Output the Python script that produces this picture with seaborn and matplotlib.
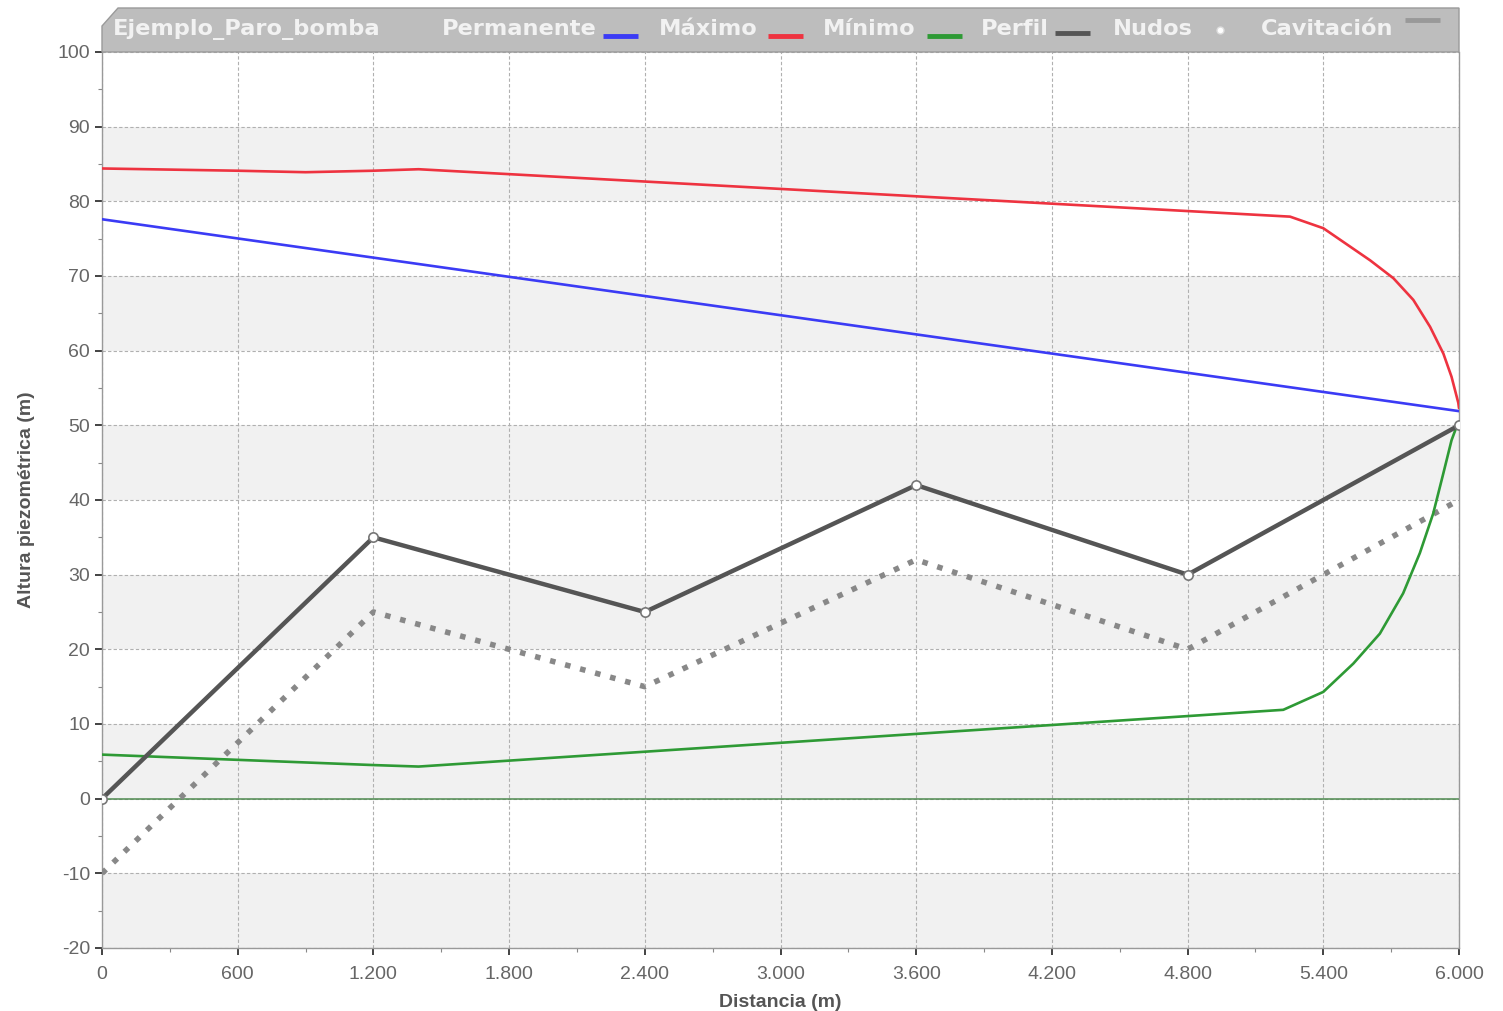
import matplotlib.pyplot as plt
import matplotlib.ticker as mticker
from matplotlib.lines import Line2D
from matplotlib.patches import Polygon
import seaborn as sns


TITLE = "Ejemplo_Paro_bomba"

# Permanente (blue)
perm_x = [0, 6000]
perm_y = [77.6, 51.9]

# Maximo (red)
max_x = [0, 600, 900, 1200, 1400, 5253, 5400, 5607, 5710, 5798, 5872, 5931, 5967, 5997, 6000]
max_y = [84.4, 84.1, 83.9, 84.1, 84.3, 77.95, 76.4, 72.1, 69.7, 66.8, 63.2, 59.6, 56.5, 53.0, 52.3]

# Minimo (green)
min_x = [0, 600, 1200, 1400, 5223, 5400, 5533, 5650, 5753, 5827, 5886, 5931, 5967, 5989, 6000]
min_y = [5.9, 5.2, 4.5, 4.3, 11.9, 14.3, 18.1, 22.1, 27.5, 32.9, 38.2, 43.6, 48.0, 49.8, 50.0]

# Perfil / Nudos
node_x = [0, 1200, 2400, 3600, 4800, 6000]
node_y = [0, 35, 25, 42, 30, 50]

# Cavitacion
cav_y = [-10, 25, 15, 32, 20, 40]

LEGEND_LABELS = ["Permanente", "Máximo", "Mínimo", "Perfil", "Nudos", "Cavitación"]

BLUE = "#3b3bf5"
RED = "#ee3340"
GREEN = "#2e9a35"
PROFILE = "#555555"
CAV = "#888888"


def fmt_thousands(v, _pos):
    return f"{int(round(v)):,}".replace(",", ".")


def main() -> None:
    sns.set_theme(style="white")
    plt.rcParams["font.family"] = ["Liberation Sans", "DejaVu Sans"]
    plt.rcParams["axes.unicode_minus"] = False

    fig = plt.figure(figsize=(15.03, 10.11), dpi=100)
    W, H = 1503, 1011
    ax = fig.add_axes([102 / W, 1 - 948 / H, (1459 - 102) / W, (948 - 52) / H])

    # alternating background bands
    for lo in [-20, 0, 20, 40, 60, 80]:
        ax.axhspan(lo, lo + 10, color="#f1f1f1", zorder=0, lw=0)

    ax.axhline(0, color="#4f8a50", lw=1.1, zorder=1)

    sns.lineplot(x=perm_x, y=perm_y, ax=ax, color=BLUE, lw=1.9, zorder=4)
    sns.lineplot(x=max_x, y=max_y, ax=ax, color=RED, lw=1.9, zorder=4, sort=False)
    sns.lineplot(x=min_x, y=min_y, ax=ax, color=GREEN, lw=1.9, zorder=4, sort=False)
    sns.lineplot(x=node_x, y=cav_y, ax=ax, color=CAV, lw=4, zorder=3,
                 linestyle=(0, (1, 1.8)), sort=False)
    sns.lineplot(x=node_x, y=node_y, ax=ax, color=PROFILE, lw=3.2, zorder=5, sort=False)
    sns.scatterplot(x=node_x, y=node_y, ax=ax, color="white", edgecolor="#777777",
                    s=45, linewidth=1.2, zorder=6)

    ax.set_xlim(0, 6000)
    ax.set_ylim(-20, 100)
    ax.xaxis.set_major_locator(mticker.MultipleLocator(600))
    ax.xaxis.set_minor_locator(mticker.MultipleLocator(300))
    ax.yaxis.set_major_locator(mticker.MultipleLocator(10))
    ax.yaxis.set_minor_locator(mticker.MultipleLocator(5))
    ax.xaxis.set_major_formatter(mticker.FuncFormatter(fmt_thousands))

    ax.grid(True, which="major", color="#b0b0b0", lw=0.8, linestyle=(0, (3, 2)), zorder=1)
    ax.set_axisbelow(True)

    ax.tick_params(axis="both", which="major", direction="out", length=5, width=1.2,
                   color="#222222", labelsize=14, labelcolor="#666666", bottom=True, left=True)
    ax.tick_params(axis="x", which="major", pad=8)
    ax.tick_params(axis="both", which="minor", direction="out", length=3, width=0.8,
                   color="#888888", bottom=True, left=True)

    for side in ["left", "bottom", "right"]:
        ax.spines[side].set_color("#999999")
        ax.spines[side].set_linewidth(1.0)
    ax.spines["top"].set_visible(False)

    ax.set_xlabel("Distancia (m)", fontsize=14, fontweight="bold", color="#555555", labelpad=8)
    ax.set_ylabel("Altura piezométrica (m)", fontsize=14, fontweight="bold", color="#555555",
                  labelpad=16)

    # header bar with title and legend
    def fx(px):
        return px / W

    def fy(py):
        return 1 - py / H

    header = Polygon(
        [(fx(102), fy(52)), (fx(102), fy(26)), (fx(118), fy(8)), (fx(1459), fy(8)), (fx(1459), fy(52))],
        closed=True, transform=fig.transFigure, facecolor="#bdbdbd", edgecolor="#9a9a9a", lw=1.0,
    )
    fig.patches.append(header)

    txt = dict(fontsize=16.2, color="#f2f2f2", fontweight="bold", va="center", ha="left",
               family=["DejaVu Sans"])
    fig.text(fx(113), fy(29), TITLE, **txt)

    label_px = [442, 659, 823, 981, 1113, 1261]
    swatches = [(603, 638, 36, BLUE), (768, 803, 36, RED), (927, 962, 36, GREEN),
                (1055, 1090, 33, PROFILE), None, (1405, 1440, 20, "#999999")]
    for label, lx, sw in zip(LEGEND_LABELS, label_px, swatches):
        fig.text(fx(lx), fy(29), label, **txt)
        if sw is not None:
            x0, x1, yy, c = sw
            fig.lines.append(Line2D([fx(x0), fx(x1)], [fy(yy), fy(yy)], transform=fig.transFigure,
                                    color=c, lw=3.5, solid_capstyle="butt"))
    fig.lines.append(Line2D([fx(1220)], [fy(30)], transform=fig.transFigure, marker="o",
                            markersize=5, markerfacecolor="white", markeredgecolor="#dddddd",
                            linestyle="none"))

    fig.savefig("out.png", dpi=100)
    plt.close(fig)


if __name__ == "__main__":
    main()
